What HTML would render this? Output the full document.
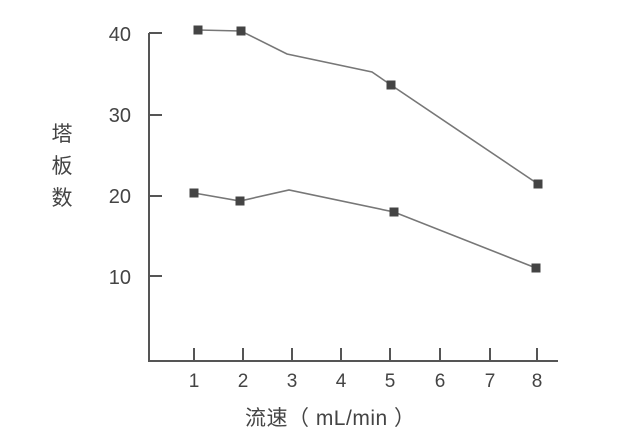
<!DOCTYPE html>
<html><head><meta charset="utf-8"><style>body{margin:0;background:#fff}svg{display:block}</style></head>
<body>
<svg width="621" height="440" xmlns="http://www.w3.org/2000/svg" font-family="'Liberation Sans','Noto Sans CJK SC',sans-serif" fill="#444">
<g stroke="#555" stroke-width="2" fill="none">
<polyline points="149,33 149,361 558,361"/>
<line x1="149" y1="33" x2="162" y2="33"/>
<line x1="149" y1="115" x2="162" y2="115"/>
<line x1="149" y1="196" x2="162" y2="196"/>
<line x1="149" y1="276" x2="162" y2="276"/>
<line x1="194" y1="361" x2="194" y2="348"/>
<line x1="243" y1="361" x2="243" y2="348"/>
<line x1="292" y1="361" x2="292" y2="348"/>
<line x1="341" y1="361" x2="341" y2="348"/>
<line x1="390" y1="361" x2="390" y2="348"/>
<line x1="440" y1="361" x2="440" y2="348"/>
<line x1="490" y1="361" x2="490" y2="348"/>
<line x1="537" y1="361" x2="537" y2="348"/>
</g>
<g stroke="#777" stroke-width="1.6" fill="none">
<polyline points="198,30 241,31 287,54 372,72 391,85 538,184"/>
<polyline points="194,193 240,201 289,190 394,212 536,268"/>
</g>
<g fill="#444">
<rect x="193.5" y="25.5" width="9" height="9"/><rect x="236.5" y="26.5" width="9" height="9"/>
<rect x="386.5" y="80.5" width="9" height="9"/><rect x="533.5" y="179.5" width="9" height="9"/>
<rect x="189.5" y="188.5" width="9" height="9"/><rect x="235.5" y="196.5" width="9" height="9"/>
<rect x="389.5" y="207.5" width="9" height="9"/><rect x="531.5" y="263.5" width="9" height="9"/>
</g>
<g font-size="20" text-anchor="end">
<text x="131" y="41">40</text><text x="131" y="122">30</text><text x="131" y="203">20</text><text x="131" y="284">10</text>
</g>
<g font-size="19" text-anchor="middle">
<text x="194" y="387">1</text><text x="243" y="387">2</text><text x="292" y="387">3</text><text x="341" y="387">4</text>
<text x="390" y="387">5</text><text x="440" y="387">6</text><text x="490" y="387">7</text><text x="537" y="387">8</text>
</g>
<g font-size="21" text-anchor="middle">
<text x="62" y="141">塔</text><text x="62" y="173">板</text><text x="62" y="205">数</text>
</g>
<text x="245" y="425" font-size="21" textLength="170" lengthAdjust="spacing">流速（ mL/min ）</text>
</svg>
</body></html>
